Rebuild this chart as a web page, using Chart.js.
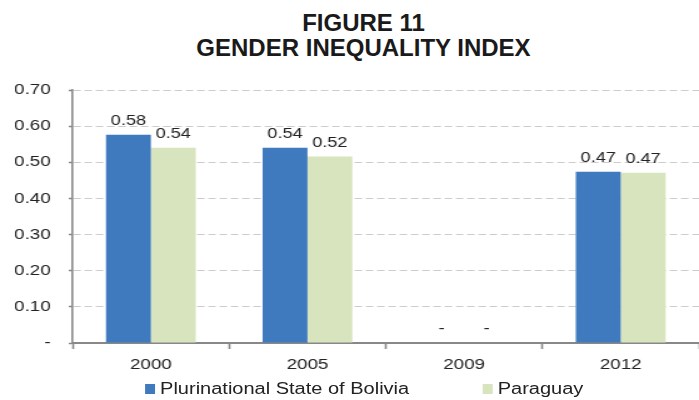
<!DOCTYPE html>
<html>
<head>
<meta charset="utf-8">
<script src="https://cdn.jsdelivr.net/npm/chart.js"></script>
<style>
  html, body { margin: 0; padding: 0; background: #fff; }
  body { width: 699px; height: 400px; overflow: hidden; position: relative; font-family: 'Liberation Sans', Arial, sans-serif; }
  #title { position: absolute; left: 0; top: 10px; width: 727px; text-align: center; font-weight: bold; font-size: 24px; line-height: 25px; color: #1a1a1a; }
  /* the source picture is stretched sideways, so the chart is drawn narrow and scaled */
  #stretch { position: absolute; left: 0; top: 0; width: 559px; height: 400px; transform: scaleX(1.2504); transform-origin: 0 0; }
  #legend .item { position: absolute; top: 381px; height: 16px; display: flex; align-items: center; font-size: 16px; color: #222; white-space: nowrap; }
  #legend .box { width: 8px; height: 10px; margin-right: 4px; }
</style>
</head>
<body>
<div id="title">FIGURE 11<br>GENDER INEQUALITY INDEX</div>
<div id="stretch">
  <canvas id="chart" width="559" height="400"></canvas>
  <div id="legend"></div>
</div>
<script>
'use strict'

var years = ['2000', '2005', '2009', '2012']
var bolivia = [0.576, 0.54, 0, 0.474]
var paraguay = [0.54, 0.516, 0, 0.471]
var seriesNames = ['Plurinational State of Bolivia', 'Paraguay']
var seriesColors = ['#3f7abf', '#d7e4bd']
var yMax = 0.7
var yStep = 0.1

function formatValue(v) {
  return v === 0 ? '-' : v.toFixed(2)
}

// values above the bars, Excel style ("-" for zero)
var barLabels = {
  id: 'barLabels',
  afterDatasetsDraw: function(chart) {
    var ctx = chart.ctx
    ctx.save()
    ctx.font = '14.5px "Liberation Sans", Arial, sans-serif'
    ctx.fillStyle = '#222'
    ctx.textAlign = 'center'
    ctx.textBaseline = 'middle'
    chart.data.datasets.forEach(function(ds, i) {
      chart.getDatasetMeta(i).data.forEach(function(bar, j) {
        ctx.fillText(formatValue(ds.data[j]), bar.x, bar.y - 14)
      })
    })
    ctx.restore()
  }
}

var ctx = document.getElementById('chart').getContext('2d')
var chart = new Chart(ctx, {
  type: 'bar',
  data: {
    labels: years,
    datasets: [
      { label: seriesNames[0], data: bolivia, backgroundColor: seriesColors[0] },
      { label: seriesNames[1], data: paraguay, backgroundColor: seriesColors[1] }
    ]
  },
  options: {
    responsive: false,
    animation: false,
    layout: { padding: { left: 12, top: 90, right: -4, bottom: 19 } },
    datasets: { bar: { categoryPercentage: 0.573, barPercentage: 1, borderWidth: 0 } },
    plugins: {
      legend: { display: false },
      title: { display: false },
      tooltip: { enabled: false }
    },
    scales: {
      x: {
        grid: { display: true, drawOnChartArea: false, offset: true, tickLength: 6, tickColor: '#888', tickWidth: 1.6 },
        border: { color: '#888', width: 2 },
        ticks: { color: '#222', padding: 7, font: { family: '"Liberation Sans", Arial, sans-serif', size: 15 } }
      },
      y: {
        min: 0,
        max: yMax,
        afterFit: function(scale) { scale.width = 46 },
        grid: { color: '#cccccc', lineWidth: 1, tickLength: 3, tickColor: '#888', tickWidth: 1.5, tickBorderDash: [] },
        border: { color: '#888', width: 1.6, dash: [6, 3] },
        ticks: {
          stepSize: yStep,
          color: '#222',
          padding: 14.5,
          font: { family: '"Liberation Sans", Arial, sans-serif', size: 15 },
          callback: function(v) { return formatValue(v) }
        }
      }
    }
  },
  plugins: [barLabels]
})

// legend under the axis
var legendLefts = [116, 386]
var legend = document.getElementById('legend')
chart.data.datasets.forEach(function(ds, i) {
  var item = document.createElement('div')
  item.className = 'item'
  item.style.left = legendLefts[i] + 'px'
  var box = document.createElement('span')
  box.className = 'box'
  box.style.background = ds.backgroundColor
  var text = document.createElement('span')
  text.textContent = ds.label
  item.appendChild(box)
  item.appendChild(text)
  legend.appendChild(item)
})
</script>
</body>
</html>
